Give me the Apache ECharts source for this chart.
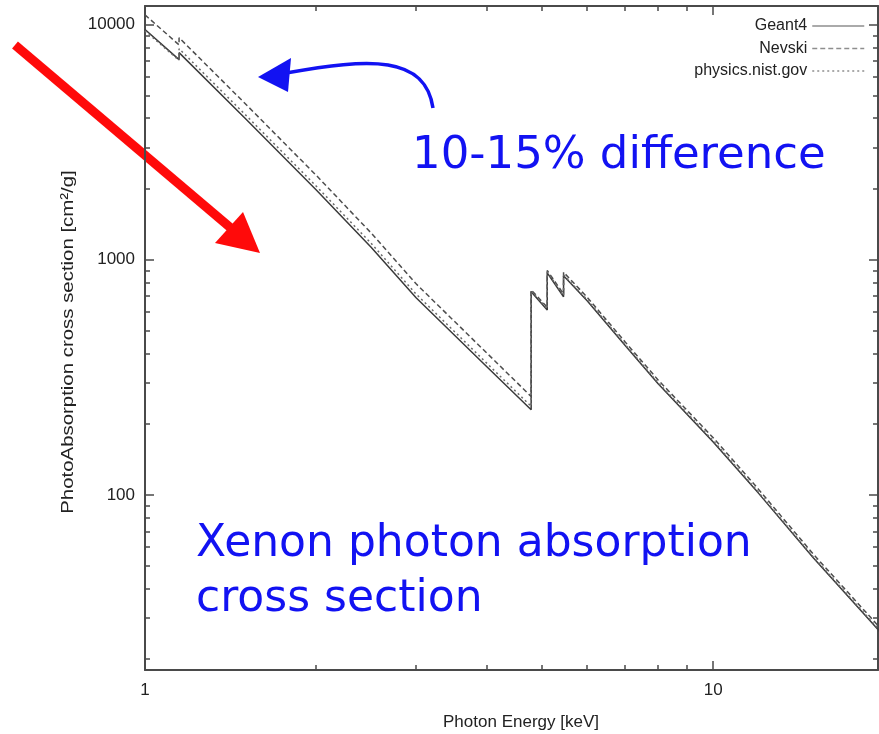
<!DOCTYPE html>
<html>
<head>
<meta charset="utf-8">
<script src="https://cdn.jsdelivr.net/npm/echarts@6/dist/echarts.min.js"></script>
<style>
  html, body { margin: 0; padding: 0; background: #fff; }
  #chart { width: 879px; height: 734px; }
</style>
</head>
<body>
<div id="chart"></div>
<script>
// Photon energies in keV; repeated energies are the absorption edges (M1, L3, L2, L1)
const energyKeV = [1.0, 1.148, 1.148, 1.5, 2.0, 2.5, 3.0, 4.0, 4.782, 4.782, 5.104, 5.104,
                   5.453, 5.453, 6.0, 7.0, 8.0, 10.0, 12.0, 15.0, 20.0];

// Xenon photoabsorption cross section, cm^2/g
const geant4 = [9530, 7100, 7600, 4000, 1985, 1130, 689, 350, 230, 731, 612, 880,
                696, 855, 670, 432, 297, 168, 102, 54, 25];
const nevski = [11000, 8200, 8800, 4620, 2290, 1300, 790, 400, 262, 745, 628, 900,
                715, 885, 693, 447, 308, 175, 106, 56, 26];
const nist   = [9400, 7050, 7900, 4150, 2060, 1175, 715, 362, 238, 738, 618, 888,
                703, 862, 677, 436, 300, 170, 103, 54.5, 25.3];

const seriesNames = ['Geant4', 'Nevski', 'physics.nist.gov'];

// Axis ranges and tick values
const xRange = [1, 19.5];
const yRange = [18, 12000];
const xMajorTicks = [1, 10];
const xMinorTicks = [2, 3, 4, 5, 6, 7, 8, 9, 20];
const yMajorTicks = [100, 1000, 10000];
const yMinorTicks = [20, 30, 40, 50, 60, 70, 80, 90,
                     200, 300, 400, 500, 600, 700, 800, 900,
                     2000, 3000, 4000, 5000, 6000, 7000, 8000, 9000];

const pairs = vals => energyKeV.map((e, i) => [e, vals[i]]);

const axisColor = '#4a4a4a';
const labelFont = { fontFamily: 'Liberation Sans, Arial, sans-serif', fontSize: 17, color: '#222' };

function xAxisDef(position, ticks, len, withLabels, withLine) {
  return {
    type: 'log', logBase: 10, min: xRange[0], max: xRange[1], position: position,
    axisLine: { show: withLine, lineStyle: { color: axisColor, width: 2 } },
    axisTick: { show: true, inside: true, length: len, customValues: ticks,
                lineStyle: { color: axisColor, width: 1.5 } },
    axisLabel: withLabels
      ? Object.assign({ show: true, customValues: xMajorTicks, margin: 12,
                        formatter: v => String(Math.round(v)) }, labelFont)
      : { show: false },
    splitLine: { show: false }, minorTick: { show: false }
  };
}
function yAxisDef(position, ticks, len, withLabels, withLine) {
  return {
    type: 'log', logBase: 10, min: yRange[0], max: yRange[1], position: position,
    axisLine: { show: withLine, lineStyle: { color: axisColor, width: 2 } },
    axisTick: { show: true, inside: true, length: len, customValues: ticks,
                lineStyle: { color: axisColor, width: 1.5 } },
    axisLabel: withLabels
      ? Object.assign({ show: true, customValues: yMajorTicks, margin: 10,
                        formatter: v => String(Math.round(v)) }, labelFont)
      : { show: false },
    splitLine: { show: false }, minorTick: { show: false }
  };
}

const chart = echarts.init(document.getElementById('chart'));

const blue = '#1212f2';
const red = '#ff0a0a';

chart.setOption({
  backgroundColor: '#fff',
  animation: false,
  grid: { left: 145, top: 6, right: 1, bottom: 64, containLabel: false },
  xAxis: [
    xAxisDef('bottom', xMajorTicks, 9, true, true),
    xAxisDef('bottom', xMinorTicks, 5, false, false),
    xAxisDef('top', xMajorTicks, 9, false, true),
    xAxisDef('top', xMinorTicks, 5, false, false)
  ],
  yAxis: [
    yAxisDef('left', yMajorTicks, 9, true, true),
    yAxisDef('left', yMinorTicks, 5, false, false),
    yAxisDef('right', yMajorTicks, 9, false, true),
    yAxisDef('right', yMinorTicks, 5, false, false)
  ],
  legend: {
    orient: 'vertical', right: 9, top: 13, align: 'right',
    itemWidth: 52, itemHeight: 14, itemGap: 6.5,
    itemStyle: { opacity: 0 },
    lineStyle: { color: '#8e8e8e', width: 1.5 },
    textStyle: { fontFamily: 'Liberation Sans, Arial, sans-serif', fontSize: 16, color: '#222', lineHeight: 16 },
    data: seriesNames
  },
  series: [
    { name: seriesNames[0], type: 'line', data: pairs(geant4), showSymbol: false, symbol: 'none',
      lineStyle: { color: '#3a3a3a', width: 1.5, type: 'solid' }, itemStyle: { color: '#3a3a3a' } },
    { name: seriesNames[1], type: 'line', data: pairs(nevski), showSymbol: false, symbol: 'none',
      lineStyle: { color: '#4e4e4e', width: 1.5, type: [5, 3] }, itemStyle: { color: '#4e4e4e' } },
    { name: seriesNames[2], type: 'line', data: pairs(nist), showSymbol: false, symbol: 'none',
      lineStyle: { color: '#6a6a6a', width: 1.5, type: [2, 3] }, itemStyle: { color: '#6a6a6a' } }
  ],
  graphic: [
    // axis titles
    { type: 'text', x: 68, y: 342, rotation: Math.PI / 2, scaleX: 1.2,
      style: { text: 'PhotoAbsorption cross section [cm²/g]', align: 'center', verticalAlign: 'middle',
               font: '17px "Liberation Sans", Arial, sans-serif', fill: '#222' } },
    { type: 'text', x: 521, y: 722,
      style: { text: 'Photon Energy [keV]', align: 'center', verticalAlign: 'middle',
               font: '17px "Liberation Sans", Arial, sans-serif', fill: '#222' } },
    // slide annotations
    { type: 'text', x: 412, y: 156,
      style: { text: '10-15% difference', align: 'left', verticalAlign: 'middle',
               font: '45px "DejaVu Sans", sans-serif', fill: blue } },
    { type: 'text', x: 196, y: 545,
      style: { text: 'Xenon photon absorption', align: 'left', verticalAlign: 'middle',
               font: '44px "DejaVu Sans", sans-serif', fill: blue } },
    { type: 'text', x: 196, y: 600,
      style: { text: 'cross section', align: 'left', verticalAlign: 'middle',
               font: '44px "DejaVu Sans", sans-serif', fill: blue } },
    { type: 'bezierCurve',
      shape: { x1: 433, y1: 108, cpx1: 425, cpy1: 55, cpx2: 370, cpy2: 58, x2: 286, y2: 73 },
      style: { stroke: blue, lineWidth: 3.5, fill: null } },
    { type: 'polygon', shape: { points: [[258, 77], [291, 58], [288, 92]] }, style: { fill: blue } },
    { type: 'line', shape: { x1: 15, y1: 45, x2: 232, y2: 229 },
      style: { stroke: red, lineWidth: 9 } },
    { type: 'polygon', shape: { points: [[260, 253], [215, 243], [243, 212]] }, style: { fill: red } }
  ]
});
</script>
</body>
</html>
